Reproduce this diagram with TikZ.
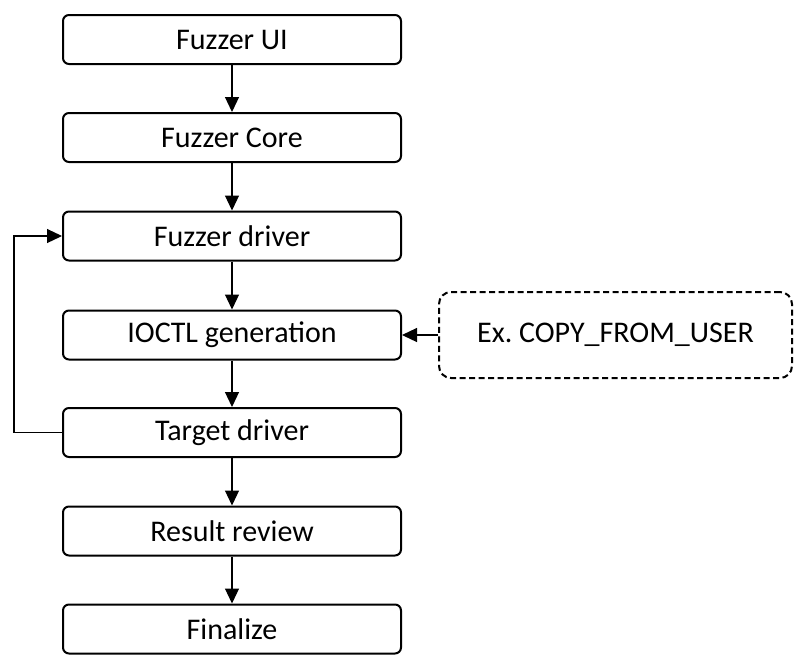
\documentclass[tikz,border=0pt]{standalone}
\usepackage{fontspec}
\setmainfont{Carlito}
\usetikzlibrary{arrows.meta}

\begin{document}
\begin{tikzpicture}[x=1pt,y=1pt,
        stage/.style={draw=black, line width=2pt, rounded corners=6pt, minimum width=338pt, minimum height=49pt, inner sep=0pt, font=\fontsize{30}{34}\selectfont},
        hint/.style={stage, dashed, dash pattern=on 6pt off 3.5pt, minimum width=353pt, minimum height=86pt, rounded corners=12pt},
        flow/.style={draw=black, line width=1.2pt, -{Triangle[length=15pt,width=14pt]}}]
        \useasboundingbox (0,0) rectangle (800,-665);
        \node [stage] (ui) at (232,-39.5) {Fuzzer UI};
        \node [stage] (core) at (232,-137.5) {Fuzzer Core};
        \node [stage] (fdrv) at (232,-236) {Fuzzer driver};
        \node [stage] (ioctl) at (232,-335) {IOCTL generation};
        \node [stage] (tdrv) at (232,-432.5) {Target driver};
        \node [stage] (review) at (232,-531) {Result review};
        \node [stage] (final) at (232,-629) {Finalize};
        \node [hint] (copy) at (615.5,-335) {Ex.\ COPY\_FROM\_USER};
        \coordinate (loop) at (14,0);
        \draw [flow] (ui) -- (core);
        \draw [flow] (core) -- (fdrv);
        \draw [flow] (fdrv) -- (ioctl);
        \draw [flow] (ioctl) -- (tdrv);
        \draw [flow] (tdrv) -- (review);
        \draw [flow] (review) -- (final);
        \draw [flow] (copy) -- (ioctl);
        \draw [flow] (tdrv.west) -- (loop |- tdrv.west) -- (loop |- fdrv.west) -- (fdrv.west);
\end{tikzpicture}
\end{document}
